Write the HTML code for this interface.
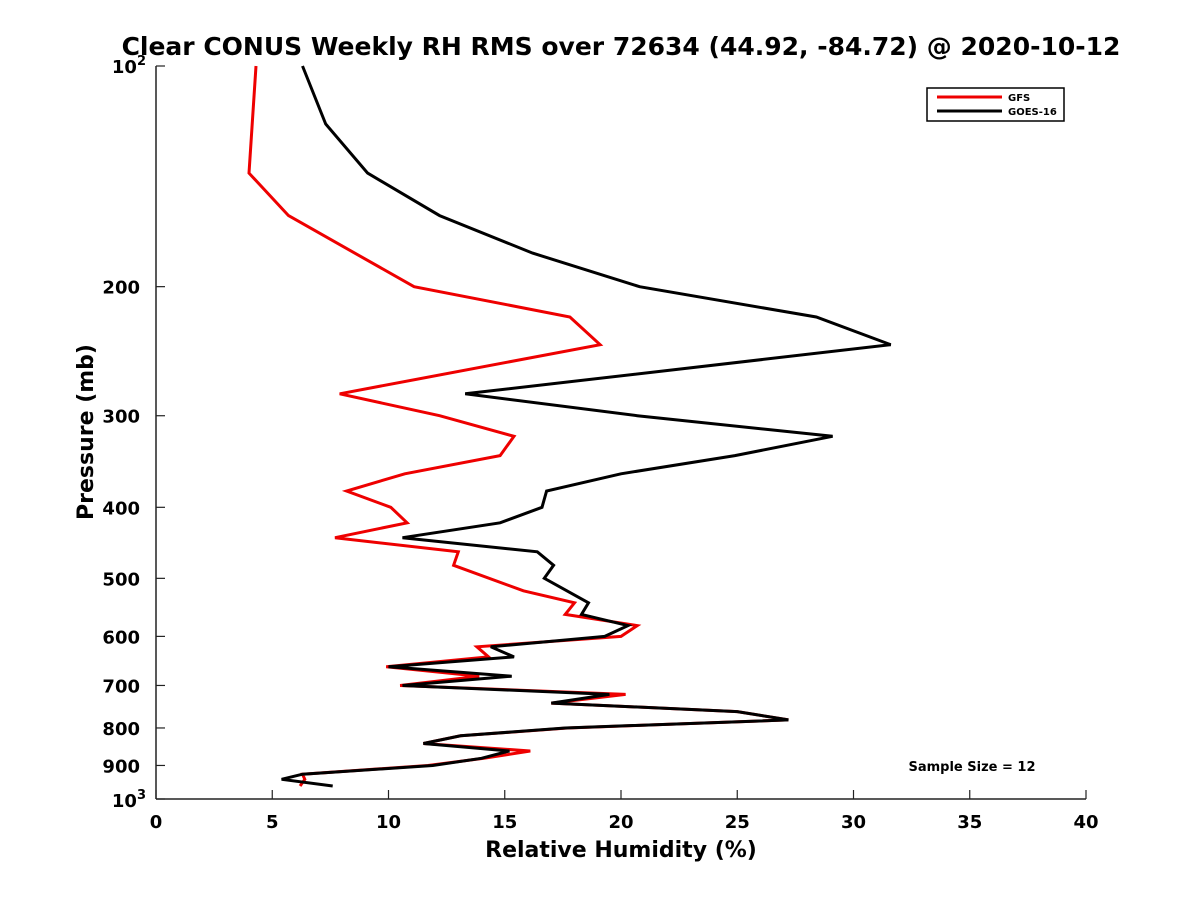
<!DOCTYPE html>
<html><head><meta charset="utf-8"><style>
body{margin:0;background:#fff}
svg{display:block;font-family:"DejaVu Sans","Liberation Sans",sans-serif}
</style></head><body>
<svg id="c" width="1200" height="900">
<text x="621" y="55" text-anchor="middle" font-size="25" font-weight="bold">Clear CONUS Weekly RH RMS over 72634 (44.92, -84.72) @ 2020-10-12</text>
<text transform="translate(93,432) rotate(-90)" text-anchor="middle" font-size="22" font-weight="bold">Pressure (mb)</text>
<text x="621" y="857" text-anchor="middle" font-size="22" font-weight="bold">Relative Humidity (%)</text>
<g id="axes"></g>
<g id="series"></g>
<g>
<rect x="927" y="88" width="137" height="33" fill="#fff" stroke="#000" stroke-width="1.5"/>
<line x1="937" y1="97" x2="1002" y2="97" stroke="#e00" stroke-width="3"/>
<text x="1008" y="101" font-size="10" font-weight="bold">GFS</text>
<line x1="937" y1="111" x2="1002" y2="111" stroke="#000" stroke-width="3"/>
<text x="1008" y="115" font-size="10" font-weight="bold">GOES-16</text>
</g>
<text x="972" y="771" text-anchor="middle" font-size="13" font-weight="bold">Sample Size = 12</text>
</svg>
<script>
const xTicks=[0,5,10,15,20,25,30,35,40];
const yTicks=[200,300,400,500,600,700,800,900];
const goesP=[100,120,140,160,180,200,220,240,280,300,320,340,360,380,400,420,440,460,480,500,540,560,580,600,620,640,660,680,700,720,740,760,780,800,820,840,860,880,900,925,940,960];
const goesV=[6.3,7.3,9.1,12.2,16.2,20.8,28.4,31.6,13.3,20.7,29.1,24.9,20.0,16.8,16.6,14.8,10.6,16.4,17.1,16.7,18.6,18.3,20.3,19.3,14.4,15.4,10.0,15.3,10.6,19.5,17.0,25.0,27.2,17.6,13.1,11.5,15.2,14.0,11.9,6.3,5.4,7.6];
const gfsP=[100,140,160,200,220,240,280,300,320,340,360,380,400,420,440,460,480,520,540,560,580,600,620,640,660,680,700,720,740,760,780,800,820,840,860,880,900,925,940,960];
const gfsV=[4.3,4.0,5.7,11.1,17.8,19.1,7.9,12.2,15.4,14.8,10.7,8.2,10.1,10.8,7.7,13.0,12.8,15.8,18.0,17.6,20.7,20.0,13.8,14.3,9.9,13.9,10.5,20.2,17.0,25.0,27.2,17.7,13.1,11.5,16.1,14.1,11.7,6.3,6.4,6.2];
const L=156,R=1086,T=66,B=799;
const X=v=>L+(v/40)*(R-L);
const Y=p=>T+(Math.log10(p)-2)*(B-T);
const NS="http://www.w3.org/2000/svg";
function mk(tag,attrs,parent){const e=document.createElementNS(NS,tag);for(const k in attrs)e.setAttribute(k,attrs[k]);parent.appendChild(e);return e;}
const ax=document.getElementById('axes');
let a=mk('line',{x1:L,y1:B,x2:R,y2:B,stroke:'#222','stroke-width':1.5},ax);


a=mk('line',{x1:L,y1:T,x2:L,y2:B,stroke:'#222','stroke-width':1.5},ax);


xTicks.forEach(v=>{
  const t=mk('line',{x1:X(v),y1:B,x2:X(v),y2:B-9,stroke:'#222','stroke-width':1.2},ax);
  
  
  const l=mk('text',{x:X(v),y:B+29,'text-anchor':'middle','font-size':18,'font-weight':'bold'},ax);
  l.textContent=v;
  
  
});
[100,1000].concat(yTicks).forEach(p=>{
  const t=mk('line',{x1:L,y1:Y(p),x2:L+9,y2:Y(p),stroke:'#222','stroke-width':1.2},ax);
  
  
});
yTicks.forEach(p=>{
  const l=mk('text',{x:L-16,y:Y(p)+7,'text-anchor':'end','font-size':18,'font-weight':'bold'},ax);
  l.textContent=p;
  
  
});
[[100,'2'],[1000,'3']].forEach(([p,e])=>{
  const l=mk('text',{x:L-10,y:Y(p)+(p==100?7:8),'text-anchor':'end','font-size':18,'font-weight':'bold'},ax);
  l.innerHTML='10<tspan dy="-8" font-size="13">'+e+'</tspan>';
  
  
});
const sg=document.getElementById('series');
function line(P,V,col,name){
  const pts=P.map((p,i)=>X(V[i]).toFixed(1)+','+Y(p).toFixed(1)).join(' ');
  const e=mk('polyline',{points:pts,fill:'none',stroke:col,'stroke-width':3,'stroke-linejoin':'miter'},sg);
  
  
}
line(gfsP,gfsV,'#e00','gfs-line');
line(goesP,goesV,'#000','goes16-line');
</script>
</body></html>
